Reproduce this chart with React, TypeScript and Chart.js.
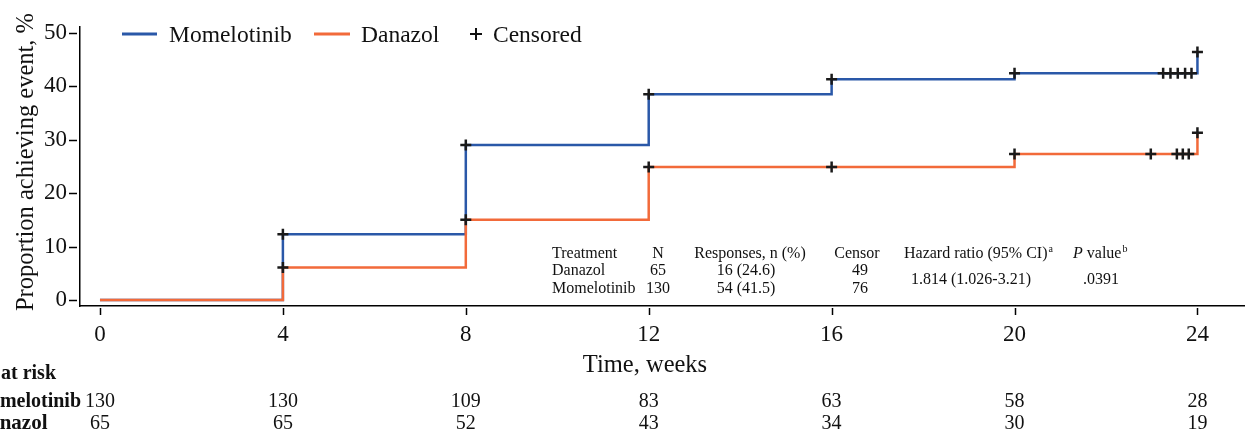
import React, { useEffect, useRef } from "react";
import { Chart, registerables } from "chart.js";

Chart.register(...registerables);

// ---------- data ----------
const weekTicks = [0, 4, 8, 12, 16, 20, 24];
const pctTicks = [0, 10, 20, 30, 40, 50];

const momTimes = [0, 4, 8, 12, 16, 20, 24];
const momValues = [0, 12.3, 29.0, 38.5, 41.3, 42.4, 46.4];
const danTimes = [0, 4, 8, 12, 16, 20, 24];
const danValues = [0, 6.1, 15.0, 24.9, 24.9, 27.3, 31.3];

const momCensorTimes = [4, 8, 12, 16, 20, 23.25, 23.41, 23.57, 23.73, 23.87, 24];
const momCensorValues = [12.3, 29.0, 38.5, 41.3, 42.4, 42.4, 42.4, 42.4, 42.4, 42.4, 46.4];
const danCensorTimes = [4, 8, 12, 16, 20, 22.98, 23.55, 23.68, 23.81, 24];
const danCensorValues = [6.1, 15.0, 24.9, 24.9, 27.3, 27.3, 27.3, 27.3, 27.3, 31.3];

const riskLabels = ["Number at risk", "Momelotinib", "Danazol"];
const riskMom = [130, 130, 109, 83, 63, 58, 28];
const riskDan = [65, 65, 52, 43, 34, 30, 19];

const statsHeader = ["Treatment", "N", "Responses, n (%)", "Censor"];
const statsDanazol = ["Danazol", "65", "16 (24.6)", "49"];
const statsMomelotinib = ["Momelotinib", "130", "54 (41.5)", "76"];
const hazardRatio = "1.814 (1.026-3.21)";
const pValue = ".0391";

const seriesNames = ["Momelotinib", "Danazol", "Censored"];
const xTitle = "Time, weeks";
const yTitle = "Proportion achieving event, %";

const BLUE = "#2a58a8";
const ORANGE = "#f26a3a";
const SERIF = "'Liberation Serif', 'Times New Roman', serif";

const zip = (xs: number[], ys: number[]) => xs.map((x, i) => ({ x, y: ys[i] }));

const overlay = {
  id: "overlay",
  afterDraw(chart: any) {
    const ctx: CanvasRenderingContext2D = chart.ctx;
    const xs = chart.scales.x;
    const ys = chart.scales.y;
    const area = chart.chartArea;
    ctx.save();

    // tick marks (with small gap from the axis line)
    ctx.strokeStyle = "#000";
    ctx.lineWidth = 1.5;
    for (const v of weekTicks) {
      const px = Math.round(xs.getPixelForValue(v)) + 0.5;
      ctx.beginPath();
      ctx.moveTo(px, area.bottom + 2);
      ctx.lineTo(px, area.bottom + 9);
      ctx.stroke();
    }
    for (const v of pctTicks) {
      const py = Math.round(ys.getPixelForValue(v)) + 0.5;
      ctx.beginPath();
      ctx.moveTo(area.left - 11, py);
      ctx.lineTo(area.left - 3, py);
      ctx.stroke();
    }

    ctx.fillStyle = "#111";

    // y title
    ctx.save();
    ctx.font = `24.5px ${SERIF}`;
    ctx.translate(33, 162);
    ctx.rotate(-Math.PI / 2);
    ctx.textAlign = "center";
    ctx.textBaseline = "alphabetic";
    ctx.fillText(yTitle, 0, 0);
    ctx.restore();

    // x title
    ctx.font = `24.5px ${SERIF}`;
    ctx.textAlign = "center";
    ctx.textBaseline = "alphabetic";
    ctx.fillText(xTitle, 645, 372);

    // legend
    ctx.lineWidth = 3;
    ctx.strokeStyle = BLUE;
    ctx.beginPath();
    ctx.moveTo(122, 34);
    ctx.lineTo(157, 34);
    ctx.stroke();
    ctx.strokeStyle = ORANGE;
    ctx.beginPath();
    ctx.moveTo(314, 34);
    ctx.lineTo(350, 34);
    ctx.stroke();
    ctx.font = `23.5px ${SERIF}`;
    ctx.textAlign = "left";
    ctx.textBaseline = "alphabetic";
    ctx.fillText(seriesNames[0], 169, 42);
    ctx.fillText(seriesNames[1], 361, 42);
    ctx.fillText(seriesNames[2], 493, 42);
    ctx.strokeStyle = "#111";
    ctx.lineWidth = 2;
    ctx.beginPath();
    ctx.moveTo(470, 34);
    ctx.lineTo(482, 34);
    ctx.moveTo(476, 28);
    ctx.lineTo(476, 40);
    ctx.stroke();

    // stats table
    ctx.font = `16px ${SERIF}`;
    ctx.textBaseline = "middle";
    const rowsY = [254, 271, 289];
    const rows = [statsHeader, statsDanazol, statsMomelotinib];
    rows.forEach((r, i) => {
      const y = rowsY[i];
      ctx.textAlign = "left";
      ctx.fillText(r[0], 552, y);
      ctx.textAlign = "center";
      ctx.fillText(r[1], 658, y);
      ctx.fillText(r[2], i === 0 ? 750 : 746, y);
      ctx.fillText(r[3], i === 0 ? 857 : 860, y);
    });
    ctx.textAlign = "left";
    const hrHead = "Hazard ratio (95% CI)";
    ctx.fillText(hrHead, 904, rowsY[0]);
    const hrW = ctx.measureText(hrHead).width;
    ctx.font = `10px ${SERIF}`;
    ctx.fillText("a", 904 + hrW + 1, rowsY[0] - 5);
    ctx.font = `italic 16px ${SERIF}`;
    ctx.fillText("P", 1073, rowsY[0]);
    const pW = ctx.measureText("P").width;
    ctx.font = `16px ${SERIF}`;
    ctx.fillText(" value", 1073 + pW, rowsY[0]);
    const vW = ctx.measureText(" value").width;
    ctx.font = `10px ${SERIF}`;
    ctx.fillText("b", 1073 + pW + vW + 1, rowsY[0] - 5);
    ctx.font = `16px ${SERIF}`;
    ctx.textAlign = "center";
    ctx.fillText(hazardRatio, 971, 280);
    ctx.fillText(pValue, 1101, 280);

    // risk table
    ctx.textAlign = "right";
    ctx.textBaseline = "middle";
    ctx.font = `bold 20px ${SERIF}`;
    ctx.fillText(riskLabels[0], 56, 374);
    ctx.fillText(riskLabels[1], 81, 402);
    ctx.font = `bold 21px ${SERIF}`;
    ctx.fillText(riskLabels[2], 47.5, 424);
    ctx.font = `20px ${SERIF}`;
    ctx.textAlign = "center";
    weekTicks.forEach((w, i) => {
      const px = xs.getPixelForValue(w);
      ctx.fillText(String(riskMom[i]), px, 402);
      ctx.fillText(String(riskDan[i]), px, 424);
    });

    ctx.restore();
  },
};

export default function App() {
  const ref = useRef<HTMLCanvasElement>(null);
  useEffect(() => {
    const canvas = ref.current;
    if (!canvas) return;
    const chart = new Chart(canvas, {
      type: "line",
      data: {
        datasets: [
          {
            label: "Momelotinib censored",
            data: zip(momCensorTimes, momCensorValues),
            showLine: false,
            pointStyle: "cross",
            pointRadius: 5.5,
            pointBorderWidth: 2.5,
            pointBorderColor: "#1a1a1a",
            borderColor: "#1a1a1a",
            order: 0,
          },
          {
            label: "Danazol censored",
            data: zip(danCensorTimes, danCensorValues),
            showLine: false,
            pointStyle: "cross",
            pointRadius: 5.5,
            pointBorderWidth: 2.5,
            pointBorderColor: "#1a1a1a",
            borderColor: "#1a1a1a",
            order: 0,
          },
          {
            label: "Danazol",
            data: zip(danTimes, danValues),
            stepped: "before",
            borderColor: ORANGE,
            borderWidth: 2.5,
            pointRadius: 0,
            fill: false,
            order: 1,
          },
          {
            label: "Momelotinib",
            data: zip(momTimes, momValues),
            stepped: "before",
            borderColor: BLUE,
            borderWidth: 2.5,
            pointRadius: 0,
            fill: false,
            order: 2,
          },
        ],
      },
      options: {
        responsive: true,
        maintainAspectRatio: false,
        devicePixelRatio: 1,
        animation: false,
        events: [],
        layout: { autoPadding: false, padding: { left: 0, right: 0, top: 27, bottom: 0 } },
        plugins: {
          legend: { display: false },
          tooltip: { enabled: false },
          title: { display: false },
        },
        scales: {
          x: {
            type: "linear",
            min: -0.437,
            max: 25.04,
            grid: { display: false, drawTicks: false },
            border: { display: true, color: "#000", width: 1.5 },
            ticks: {
              font: { family: SERIF, size: 23 },
              color: "#111",
              padding: 15,
              maxRotation: 0,
            },
            afterBuildTicks: (s: any) => {
              s.ticks = weekTicks.map((v) => ({ value: v }));
            },
            afterFit: (s: any) => {
              s.height = 126;
              s.paddingLeft = 0;
              s.paddingRight = 0;
            },
          },
          y: {
            type: "linear",
            min: -1.12,
            max: 51.07,
            grid: { display: false, drawTicks: false },
            border: { display: true, color: "#000", width: 1.5 },
            ticks: {
              font: { family: SERIF, size: 23 },
              color: "#111",
              padding: 13,
            },
            afterBuildTicks: (s: any) => {
              s.ticks = pctTicks.map((v) => ({ value: v }));
            },
            afterFit: (s: any) => {
              s.width = 80;
              s.paddingTop = 0;
              s.paddingBottom = 0;
            },
          },
        },
      },
      plugins: [overlay],
    });
    return () => chart.destroy();
  }, []);
  return (
    <div style={{ position: "fixed", left: 0, top: 0, width: 1245, height: 432, background: "#fff" }}>
      <canvas ref={ref} />
    </div>
  );
}
